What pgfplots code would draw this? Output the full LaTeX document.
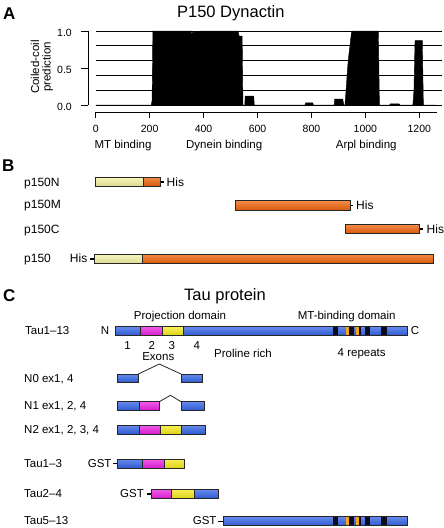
\documentclass[border=0pt]{standalone}
\usepackage{fontspec}
\setmainfont{Liberation Sans}
\usepackage{pgfplots}
\pgfplotsset{compat=1.18}
\definecolor{pyel}{HTML}{F5F2A4}
\definecolor{porg}{HTML}{EE640C}
\definecolor{tblue}{HTML}{3363E6}
\definecolor{tmag}{HTML}{EC22E0}
\definecolor{tyel}{HTML}{F6EA1C}
\definecolor{torg}{HTML}{F7A51E}
\definecolor{tdark}{HTML}{0C0C1C}
\newcommand{\fs}[1]{\fontsize{#1}{#1}\selectfont}
\newcommand{\myBox}[5]{\shadedraw[top color=#5!75!white, middle color=#5, bottom color=#5!90!black, draw=black!85, line width=0.8pt] (axis cs:#1,#3) rectangle (axis cs:#2,#4);}
\newcommand{\myShade}[5]{\shade[top color=#5!75!white, middle color=#5, bottom color=#5!90!black] (axis cs:#1,#3) rectangle (axis cs:#2,#4);}
\newcommand{\myFill}[5]{\fill[#5] (axis cs:#1,#3) rectangle (axis cs:#2,#4);}
\newcommand{\myOutline}[4]{\draw[black!85, line width=0.8pt] (axis cs:#1,#3) rectangle (axis cs:#2,#4);}
\newcommand{\myRepeats}[2]{%
\myFill{332.7}{337.5}{#1}{#2}{tdark}%
\myFill{345.5}{349}{#1}{#2}{torg}%
\myFill{349}{354}{#1}{#2}{tdark}%
\myFill{355.5}{359}{#1}{#2}{torg}%
\myFill{359}{361}{#1}{#2}{tdark}%
\myFill{365}{369.5}{#1}{#2}{tdark}%
\myFill{381}{386.5}{#1}{#2}{tdark}}
\begin{document}
\begin{tikzpicture}
\useasboundingbox (0pt,0pt) rectangle (444pt,-528pt);
% ---------- Panel A plot ----------
\begin{axis}[at={(95.7pt,-105pt)}, anchor=south west, scale only axis,
  width=350.61pt, height=74pt, xmin=0, xmax=1300, ymin=0, ymax=1,
  axis lines=none, clip=false]
\draw[line width=0.9pt] (axis cs:0,0) -- (axis cs:1285,0);
\draw[line width=0.9pt] (axis cs:0,0.2) -- (axis cs:1285,0.2);
\draw[line width=0.9pt] (axis cs:0,0.4) -- (axis cs:1285,0.4);
\draw[line width=0.9pt] (axis cs:0,0.6) -- (axis cs:1285,0.6);
\draw[line width=0.9pt] (axis cs:0,0.8) -- (axis cs:1285,0.8);
\draw[line width=0.9pt] (axis cs:0,1) -- (axis cs:1285,1);
\addplot[fill=black, draw=black, line width=0.4pt] coordinates {
(0,0) (206,0) (209,0.06) (212,1.0) (354,1.0) (355.5,0.78) (357,0.98)
(385,0.99) (387,1.0) (528,1.0) (532,0.93) (543,0.93) (546,0) (553,0) (554,0.12)
(586,0.12) (588,0) (776,0) (778,0.03) (805,0.03) (807,0) (884,0) (886,0.08)
(916,0.08) (920,0) (924,0) (928,0.18) (933,0.45) (937,0.63) (943,0.81) (949,1.0)
(1048,1.0) (1052,0) (1090,0) (1092,0.015) (1125,0.015) (1127,0) (1176,0)
(1180,0.2) (1184,0.87) (1211,0.87) (1215,0) (1260,0)} \closedcycle;
% y axis
\draw[line width=0.9pt] (axis cs:-28.5,1) -- (axis cs:-28.5,0);
\draw[line width=0.9pt] (axis cs:-28.5,1) -- ++(-7pt,0);
\draw[line width=0.9pt] (axis cs:-28.5,0.5) -- ++(-7pt,0);
\draw[line width=0.9pt] (axis cs:-28.5,0) -- ++(-7pt,0);
\node[anchor=east, inner sep=0pt, font=\fs{10.5}] at ([xshift=-16pt,yshift=-2pt]axis cs:-28.5,1) {1.0};
\node[anchor=east, inner sep=0pt, font=\fs{10.5}] at ([xshift=-16pt,yshift=-2pt]axis cs:-28.5,0.5) {0.5};
\node[anchor=east, inner sep=0pt, font=\fs{10.5}] at ([xshift=-16pt,yshift=-2pt]axis cs:-28.5,0) {0.0};
% x axis
\draw[line width=0.9pt] (axis cs:0,-0.0986) -- (axis cs:1265,-0.0986);
\draw[line width=0.9pt] (axis cs:0,-0.0986) -- ++(0,-6pt);
\draw[line width=0.9pt] (axis cs:200,-0.0986) -- ++(0,-6pt);
\draw[line width=0.9pt] (axis cs:400,-0.0986) -- ++(0,-6pt);
\draw[line width=0.9pt] (axis cs:600,-0.0986) -- ++(0,-6pt);
\draw[line width=0.9pt] (axis cs:800,-0.0986) -- ++(0,-6pt);
\draw[line width=0.9pt] (axis cs:1000,-0.0986) -- ++(0,-6pt);
\draw[line width=0.9pt] (axis cs:1200,-0.0986) -- ++(0,-6pt);
\node[inner sep=0pt, font=\fs{10.5}] at ([yshift=-16.5pt]axis cs:0,-0.0986) {0};
\node[inner sep=0pt, font=\fs{10.5}] at ([yshift=-16.5pt]axis cs:200,-0.0986) {200};
\node[inner sep=0pt, font=\fs{10.5}] at ([yshift=-16.5pt]axis cs:400,-0.0986) {400};
\node[inner sep=0pt, font=\fs{10.5}] at ([yshift=-16.5pt]axis cs:600,-0.0986) {600};
\node[inner sep=0pt, font=\fs{10.5}] at ([yshift=-16.5pt]axis cs:800,-0.0986) {800};
\node[inner sep=0pt, font=\fs{10.5}] at ([yshift=-16.5pt]axis cs:1000,-0.0986) {1000};
\node[inner sep=0pt, font=\fs{10.5}] at ([yshift=-16.5pt]axis cs:1200,-0.0986) {1200};
\end{axis}
% ---------- canvas for texts, panels B and C ----------
\begin{axis}[at={(0pt,0pt)}, anchor=north west, scale only axis,
  width=444pt, height=528pt, xmin=0, xmax=444, ymin=0, ymax=528,
  y dir=reverse, hide axis, clip=false]
% Panel A texts
\node[anchor=base west, inner sep=0pt, font=\fs{17}\bfseries] at (axis cs:3,19.3) {A};
\node[anchor=base, inner sep=0pt, font=\fs{16.5}] at (axis cs:230.8,17) {P150 Dynactin};
\node[anchor=base, inner sep=0pt, font=\fs{11.5}] at (axis cs:123,148.5) {MT binding};
\node[anchor=base, inner sep=0pt, font=\fs{11.5}] at (axis cs:224.2,148.5) {Dynein binding};
\node[anchor=base, inner sep=0pt, font=\fs{11.5}] at (axis cs:366.2,148.5) {Arpl binding};
% Panel B
\node[anchor=base west, inner sep=0pt, font=\fs{17}\bfseries] at (axis cs:2,171.7) {B};
\node[anchor=base west, inner sep=0pt, font=\fs{12}] at (axis cs:24,186) {p150N};
\node[anchor=base west, inner sep=0pt, font=\fs{12}] at (axis cs:24,208) {p150M};
\node[anchor=base west, inner sep=0pt, font=\fs{12}] at (axis cs:24,233) {p150C};
\node[anchor=base west, inner sep=0pt, font=\fs{12}] at (axis cs:24,262.5) {p150};
% p150N
\draw[line width=1.6pt] (axis cs:160.7,181.7) -- (axis cs:163.5,181.7);
\myBox{95}{143.3}{177.3}{186}{pyel}
\myBox{143.3}{160.7}{177.3}{186}{porg}
\node[anchor=base west, inner sep=0pt, font=\fs{12}] at (axis cs:166.5,186) {His};
% p150M
\draw[line width=1.6pt] (axis cs:350,205.3) -- (axis cs:353.3,205.3);
\myBox{235}{350}{200.7}{210}{porg}
\node[anchor=base west, inner sep=0pt, font=\fs{12}] at (axis cs:356,209) {His};
% p150C
\draw[line width=1.6pt] (axis cs:419.3,228.8) -- (axis cs:423.3,228.8);
\myBox{345.7}{419.3}{224.3}{233.3}{porg}
\node[anchor=base west, inner sep=0pt, font=\fs{12}] at (axis cs:426.5,233) {His};
% p150
\draw[line width=1.6pt] (axis cs:90,258.8) -- (axis cs:94.3,258.8);
\myBox{94.3}{142.7}{254.3}{263.3}{pyel}
\myBox{142.7}{433.3}{254.3}{263.3}{porg}
\node[anchor=base east, inner sep=0pt, font=\fs{12}] at (axis cs:87.5,262.5) {His};
% Panel C
\node[anchor=base west, inner sep=0pt, font=\fs{17}\bfseries] at (axis cs:3,301.7) {C};
\node[anchor=base, inner sep=0pt, font=\fs{16.5}] at (axis cs:225,300.5) {Tau protein};
\node[anchor=base, inner sep=0pt, font=\fs{11.5}] at (axis cs:180,319.5) {Projection domain};
\node[anchor=base, inner sep=0pt, font=\fs{11.5}] at (axis cs:346.7,319.5) {MT-binding domain};
\node[anchor=base west, inner sep=0pt, font=\fs{11.5}] at (axis cs:25,334.6) {Tau1--13};
\node[anchor=base, inner sep=0pt, font=\fs{11.5}] at (axis cs:105,334.6) {N};
\node[anchor=base, inner sep=0pt, font=\fs{11.5}] at (axis cs:415,334.6) {C};
% Tau1-13 bar
\myShade{115}{407.3}{326.7}{335.3}{tblue}
\myShade{140}{162.3}{326.7}{335.3}{tmag}
\myShade{162.3}{183.3}{326.7}{335.3}{tyel}
\myRepeats{326.7}{335.3}
\draw[black!85, line width=0.8pt] (axis cs:140,326.7) -- (axis cs:140,335.3);
\draw[black!85, line width=0.8pt] (axis cs:162.3,326.7) -- (axis cs:162.3,335.3);
\draw[black!85, line width=0.8pt] (axis cs:183.3,326.7) -- (axis cs:183.3,335.3);
\myOutline{115}{407.3}{326.7}{335.3}
% exon labels
\node[anchor=base, inner sep=0pt, font=\fs{11.5}] at (axis cs:127.5,349) {1};
\node[anchor=base, inner sep=0pt, font=\fs{11.5}] at (axis cs:151.7,349) {2};
\node[anchor=base, inner sep=0pt, font=\fs{11.5}] at (axis cs:171.7,349) {3};
\node[anchor=base, inner sep=0pt, font=\fs{11.5}] at (axis cs:196.7,349) {4};
\node[anchor=base, inner sep=0pt, font=\fs{11.5}] at (axis cs:158.3,360.6) {Exons};
\node[anchor=base, inner sep=0pt, font=\fs{11.5}] at (axis cs:243,357.2) {Proline rich};
\node[anchor=base, inner sep=0pt, font=\fs{11.5}] at (axis cs:361.7,356.2) {4 repeats};
% N0
\node[anchor=base west, inner sep=0pt, font=\fs{11.5}] at (axis cs:24,382.2) {N0 ex1, 4};
\draw[black!85, line width=0.8pt] (axis cs:138.3,374) -- (axis cs:159.3,364) -- (axis cs:181,374);
\myBox{117.7}{138.3}{374}{382.6}{tblue}
\myBox{181}{202.7}{374}{382.6}{tblue}
% N1
\node[anchor=base west, inner sep=0pt, font=\fs{11.5}] at (axis cs:24,409.8) {N1 ex1, 2, 4};
\draw[black!85, line width=0.8pt] (axis cs:159.3,401.7) -- (axis cs:170.5,395.3) -- (axis cs:181,401.7);
\myBox{117.7}{139.3}{401.7}{410.3}{tblue}
\myBox{139.3}{159.3}{401.7}{410.3}{tmag}
\myBox{181}{204}{401.7}{410.3}{tblue}
% N2
\node[anchor=base west, inner sep=0pt, font=\fs{11.5}] at (axis cs:24,433.2) {N2 ex1, 2, 3, 4};
\myBox{117.7}{139.3}{425.3}{434}{tblue}
\myBox{139.3}{160}{425.3}{434}{tmag}
\myBox{160}{181.7}{425.3}{434}{tyel}
\myBox{181.7}{205}{425.3}{434}{tblue}
% Tau1-3
\node[anchor=base west, inner sep=0pt, font=\fs{11.5}] at (axis cs:24,467.2) {Tau1--3};
\node[anchor=base east, inner sep=0pt, font=\fs{11.5}] at (axis cs:111.7,467.2) {GST};
\draw[line width=1.4pt] (axis cs:113.3,463.7) -- (axis cs:117.7,463.7);
\myBox{117.7}{142.3}{459}{468.3}{tblue}
\myBox{142.3}{164}{459}{468.3}{tmag}
\myBox{164}{184}{459}{468.3}{tyel}
% Tau2-4
\node[anchor=base west, inner sep=0pt, font=\fs{11.5}] at (axis cs:24,497.3) {Tau2--4};
\node[anchor=base east, inner sep=0pt, font=\fs{11.5}] at (axis cs:144,497.3) {GST};
\draw[line width=1.4pt] (axis cs:146.7,493.8) -- (axis cs:151,493.8);
\myBox{151}{171.7}{489.3}{498.3}{tmag}
\myBox{171.7}{194}{489.3}{498.3}{tyel}
\myBox{194}{218.3}{489.3}{498.3}{tblue}
% Tau5-13
\node[anchor=base west, inner sep=0pt, font=\fs{11.5}] at (axis cs:24,524.8) {Tau5--13};
\node[anchor=base east, inner sep=0pt, font=\fs{11.5}] at (axis cs:216.7,524.8) {GST};
\draw[line width=1.4pt] (axis cs:218.3,521.2) -- (axis cs:223.3,521.2);
\myShade{223.3}{407.3}{516.7}{525.7}{tblue}
\myRepeats{516.7}{525.7}
\myOutline{223.3}{407.3}{516.7}{525.7}
\end{axis}
% y label of panel A
\node[rotate=90, anchor=base, inner sep=0pt, font=\fs{11.5}] at (39pt,-67pt) {Coiled-coil};
\node[rotate=90, anchor=base, inner sep=0pt, font=\fs{11.5}] at (50.5pt,-67pt) {prediction};
\end{tikzpicture}
\end{document}
